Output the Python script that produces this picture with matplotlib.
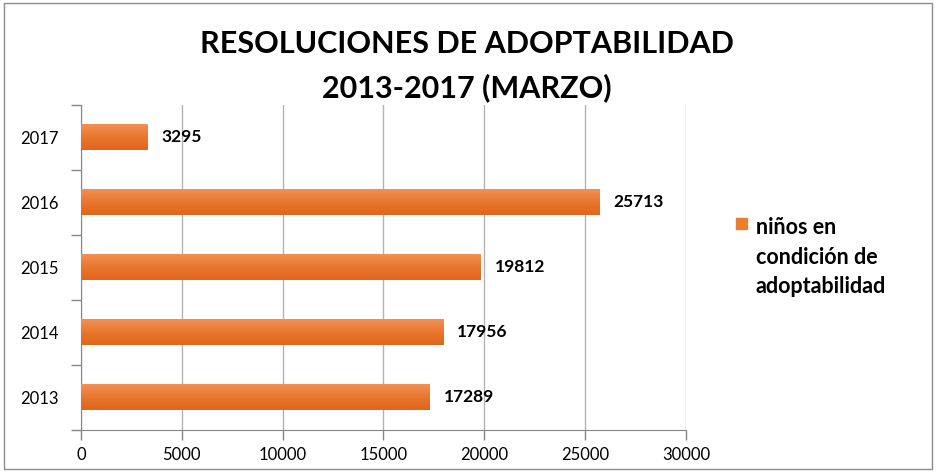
import numpy as np
import matplotlib.pyplot as plt
from matplotlib.patches import Rectangle
from matplotlib.colors import LinearSegmentedColormap

years = ['2013', '2014', '2015', '2016', '2017']
valores = [17289, 17956, 19812, 25713, 3295]
xticks = [0, 5000, 10000, 15000, 20000, 25000, 30000]
titulo = 'RESOLUCIONES DE ADOPTABILIDAD\n2013-2017 (MARZO)'
serie = 'niños en\ncondición de\nadoptabilidad'

plt.rcParams['font.family'] = ['Lato', 'DejaVu Sans']

fig = plt.figure(figsize=(9.36, 4.74), dpi=100)
ax = fig.add_axes([0.0865, 0.0928, 0.6464, 0.6867])

# gradient fill for each bar (dark at bottom, light at top)
grad = np.linspace(0, 1, 64).reshape(-1, 1)
cmap = LinearSegmentedColormap.from_list('naranja', ['#E2651C', '#E8772F', '#F39257'])

y = np.arange(len(years))
bars = ax.barh(y, valores, height=0.4, color='#ED7D31', edgecolor='none', zorder=2)
for b in bars:
    x0, y0, w, h = b.get_x(), b.get_y(), b.get_width(), b.get_height()
    im = ax.imshow(grad, extent=[x0, x0 + w, y0, y0 + h], origin='lower',
                   cmap=cmap, aspect='auto', zorder=3)
    im.set_clip_path(b)

for yi, v in zip(y, valores):
    ax.text(v + 700, yi, str(v), va='center', ha='left', fontsize=12.5,
            fontweight='bold', color='black', zorder=4)

ax.set_xlim(0, 30000)
ax.set_ylim(-0.5, len(years) - 0.5)
ax.set_xticks(xticks)
ax.set_xticklabels([str(t) for t in xticks], fontsize=12)
ax.set_yticks(y)
ax.set_yticklabels(years, fontsize=12)
ax.set_yticks(np.arange(-0.5, len(years), 1), minor=True)
ax.tick_params(axis='y', which='major', length=0, pad=16)
ax.tick_params(axis='y', which='minor', length=7, color='#868686', width=1)
ax.tick_params(axis='x', length=7, color='#868686', width=1, pad=5)
ax.grid(axis='x', color='#B3B3B3', linewidth=1, zorder=0)
for s in ['top', 'right']:
    ax.spines[s].set_visible(False)
for s in ['left', 'bottom']:
    ax.spines[s].set_color('#868686')

fig.text(0.499, 1 - 66 / 474, titulo, ha='center', va='center', fontsize=22,
         fontweight='bold', linespacing=1.65)

# legend
fig.patches.append(Rectangle((736 / 936, 1 - 229 / 474), 11 / 936, 11 / 474,
                             transform=fig.transFigure, color='#ED7D31'))
fig.text(756 / 936, 1 - 257 / 474, serie, ha='left', va='center', fontsize=15.5,
         fontweight='bold', linespacing=1.5)

# outer frame
fig.patches.append(Rectangle((4 / 936, 5 / 474), 928 / 936, 466 / 474,
                             transform=fig.transFigure, fill=False,
                             edgecolor='#8C8C8C', linewidth=1))

fig.savefig('out.png', dpi=100)
